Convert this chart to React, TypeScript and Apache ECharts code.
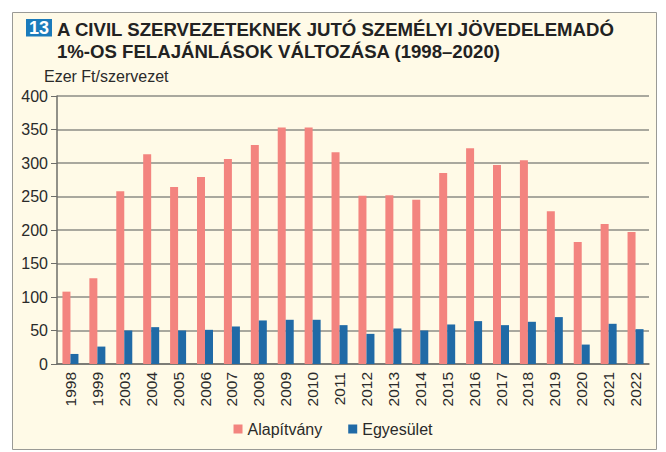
import React, { useEffect, useRef } from "react";
import * as echarts from "echarts";

const years = ["1998","1999","2003","2004","2005","2006","2007","2008","2009","2010","2011","2012","2013","2014","2015","2016","2017","2018","2019","2020","2021","2022"];
const alapitvany = [108,128,258,313,264,279,306,327,353,353,316,251,252,245,285,322,297,304,228,182,209,197];
const egyesulet = [15,26,50,55,50,51,56,65,66,66,58,45,53,50,59,64,58,63,70,29,60,52];
const yTicks = [0, 400, 50];

const PINK = "#f3847f";
const BLUE = "#206aa6";
const FONT = "'Liberation Sans', Arial, sans-serif";

export default function App() {
  const ref = useRef<HTMLDivElement>(null);
  useEffect(() => {
    const chart = echarts.init(ref.current!, null, { renderer: "svg" });
    chart.setOption({
      animation: false,
      backgroundColor: "#ffffff",
      textStyle: { fontFamily: FONT },
      graphic: [
        { type: "rect", z: -10, shape: { x: 12.5, y: 12.5, width: 644, height: 437 }, style: { fill: "#fffae7", stroke: "#9a9a96", lineWidth: 1 } },
        { type: "rect", shape: { x: 26, y: 19, width: 26, height: 17.5 }, style: { fill: "#1b7bbb" } },
        { type: "text", style: { text: "13", x: 39, y: 28, align: "center", verticalAlign: "middle", font: `bold 18px ${FONT}`, fill: "#ffffff" } },
        { type: "text", style: { text: "A CIVIL SZERVEZETEKNEK JUTÓ SZEMÉLYI JÖVEDELEMADÓ", x: 57, y: 29.5, verticalAlign: "middle", font: `bold 18.6px ${FONT}`, fill: "#222222" } },
        { type: "text", style: { text: "1%-OS FELAJÁNLÁSOK VÁLTOZÁSA (1998–2020)", x: 57, y: 51, verticalAlign: "middle", font: `bold 18.6px ${FONT}`, fill: "#222222" } },
        { type: "text", style: { text: "Ezer Ft/szervezet", x: 44, y: 76.5, verticalAlign: "middle", font: `16px ${FONT}`, fill: "#2a2a2a" } },
      ],
      grid: { left: 57, right: 17, top: 96, bottom: 88, containLabel: false },
      legend: {
        bottom: 10,
        left: "center",
        itemWidth: 9,
        itemHeight: 9,
        itemGap: 26,
        icon: "rect",
        textStyle: { fontSize: 16, color: "#2a2a2a", fontFamily: FONT },
        data: ["Alapítvány", "Egyesület"],
      },
      xAxis: {
        type: "category",
        data: years,
        axisLine: { lineStyle: { color: "#6e6e6a", width: 1.5 } },
        axisTick: { show: false },
        axisLabel: { rotate: 90, fontSize: 15.5, color: "#2a2a2a", margin: 8, fontFamily: FONT },
      },
      yAxis: {
        type: "value",
        min: yTicks[0],
        max: yTicks[1],
        interval: yTicks[2],
        axisLine: { show: true, lineStyle: { color: "#6e6e6a", width: 1.5 } },
        axisTick: { show: true, length: 6, lineStyle: { color: "#6e6e6a" } },
        axisLabel: { fontSize: 16, color: "#2a2a2a", margin: 9, fontFamily: FONT },
        splitLine: { lineStyle: { color: "#8c8c86", width: 1.5 } },
      },
      series: [
        { name: "Alapítvány", type: "bar", data: alapitvany, barWidth: 8, barGap: "0%", itemStyle: { color: PINK } },
        { name: "Egyesület", type: "bar", data: egyesulet, barWidth: 8, barGap: "0%", itemStyle: { color: BLUE } },
      ],
    });
    return () => chart.dispose();
  }, []);
  return <div ref={ref} style={{ position: "fixed", left: 0, top: 0, width: 666, height: 452 }} />;
}
